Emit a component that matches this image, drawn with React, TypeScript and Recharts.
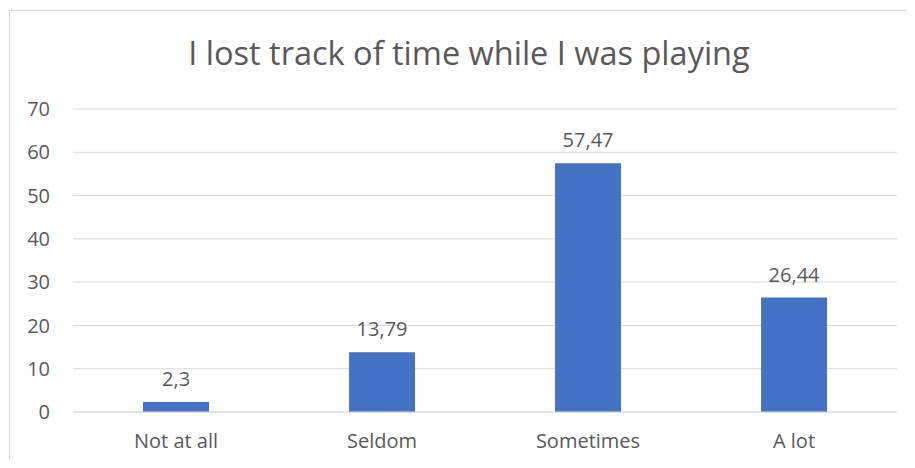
import { BarChart, Bar, XAxis, YAxis, CartesianGrid, LabelList } from 'recharts';

const categories = ['Not at all', 'Seldom', 'Sometimes', 'A lot'];
const percentages = [2.3, 13.79, 57.47, 26.44];
const yTicks = [0, 10, 20, 30, 40, 50, 60, 70];

const data = categories.map((name, i) => ({ name, value: percentages[i] }));

const font = '"Open Sans", sans-serif';
const textColor = '#595959';

export default function App() {
  return (
    <div style={{ position: 'relative', width: 907, height: 452, overflow: 'hidden' }}>
      <div
        style={{
          position: 'absolute',
          left: 1,
          top: 2,
          width: 930,
          height: 480,
          border: '1px solid #d9d9d9',
          boxSizing: 'border-box',
        }}
      />
      <div
        style={{
          position: 'absolute',
          left: 0,
          width: 922,
          top: 22,
          textAlign: 'center',
          fontFamily: font,
          fontSize: 32.5,
          color: textColor,
          whiteSpace: 'nowrap',
        }}
      >
        I lost track of time while I was playing
      </div>
      <div style={{ position: 'absolute', left: 0, top: 0 }}>
        <BarChart
          width={907}
          height={460}
          data={data}
          margin={{ top: 101, right: 18, left: 25, bottom: 26 }}
          barCategoryGap="34%"
        >
          <CartesianGrid vertical={false} stroke="#d9d9d9" strokeWidth={1} />
          <XAxis
            dataKey="name"
            axisLine={{ stroke: '#d9d9d9' }}
            tickLine={false}
            tickSize={0}
            tickMargin={22}
            height={30}
            tick={{ fontFamily: font, fontSize: 20, fill: textColor }}
          />
          <YAxis
            domain={[0, 70]}
            ticks={yTicks}
            axisLine={false}
            tickLine={false}
            tickSize={0}
            tickMargin={23}
            width={40}
            tick={{ fontFamily: font, fontSize: 20, fill: textColor }}
          />
          <Bar dataKey="value" fill="#4472c4" isAnimationActive={false}>
            <LabelList
              dataKey="value"
              position="top"
              offset={16}
              formatter={(v: number) => String(v).replace('.', ',')}
              style={{ fontFamily: font, fontSize: 20, fill: textColor }}
            />
          </Bar>
        </BarChart>
      </div>
    </div>
  );
}
